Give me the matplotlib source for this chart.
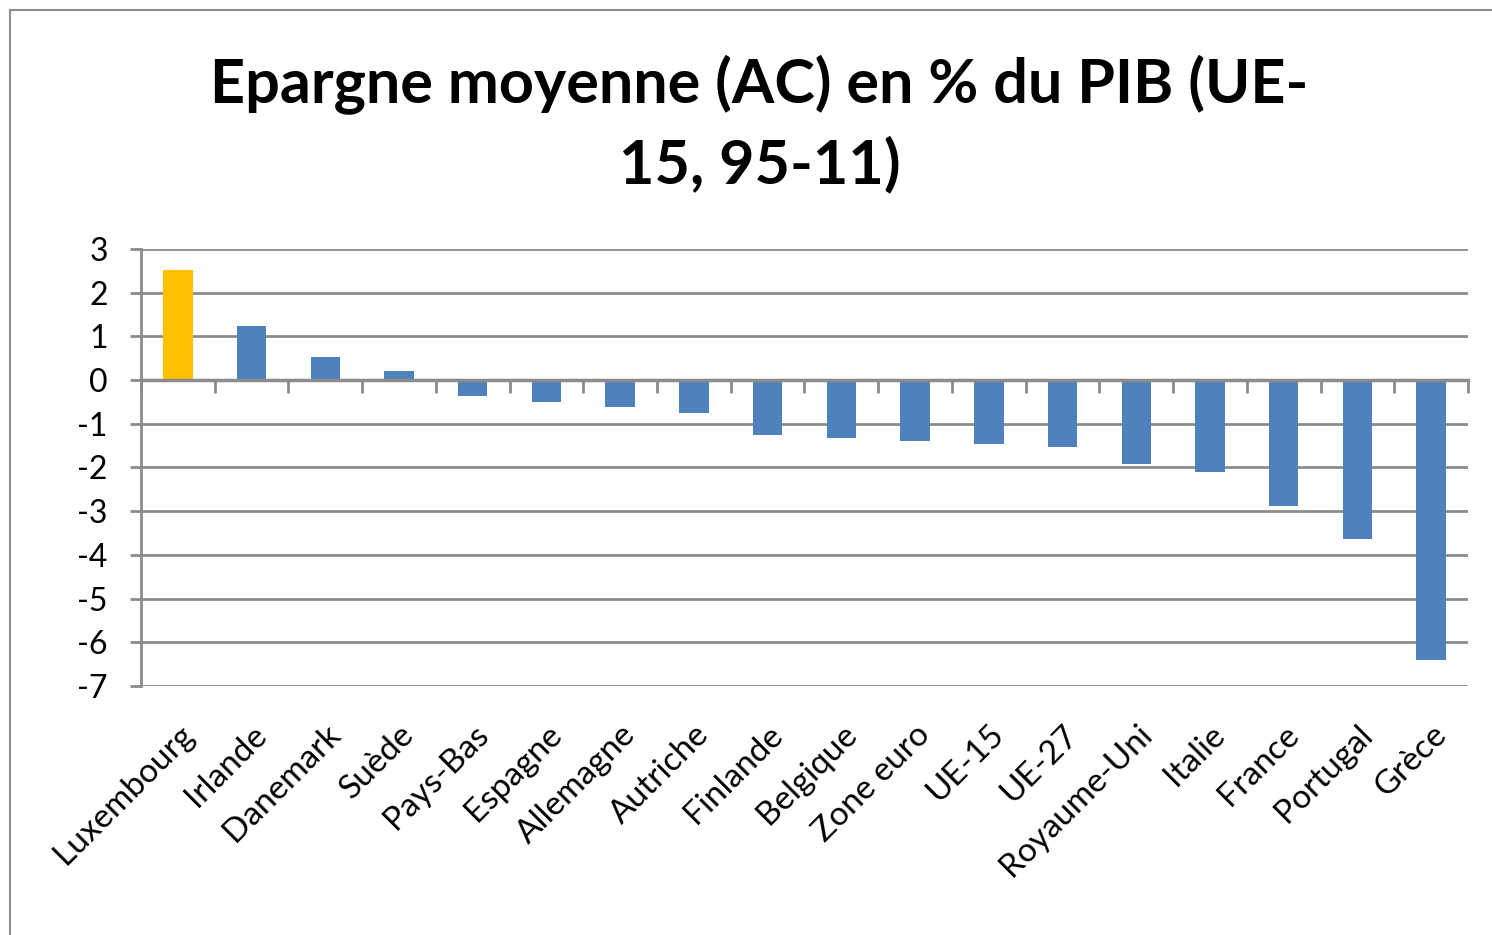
import numpy as np
import matplotlib.pyplot as plt
from matplotlib.patches import Rectangle

# données
pays = ['Luxembourg', 'Irlande', 'Danemark', 'Suède', 'Pays-Bas', 'Espagne',
        'Allemagne', 'Autriche', 'Finlande', 'Belgique', 'Zone euro', 'UE-15',
        'UE-27', 'Royaume-Uni', 'Italie', 'France', 'Portugal', 'Grèce']
epargne = [2.52, 1.24, 0.53, 0.2, -0.37, -0.5, -0.62, -0.75, -1.26, -1.33,
           -1.4, -1.46, -1.53, -1.92, -2.1, -2.88, -3.64, -6.4]
couleurs = ['#FFC000'] + ['#4F81BD'] * (len(pays) - 1)

plt.rcParams['font.family'] = ['Lato', 'DejaVu Sans']
plt.rcParams['axes.unicode_minus'] = False
gris = '#8C8C8C'

fig = plt.figure(figsize=(14.92, 9.35), dpi=100)
fig.patches.append(Rectangle((10 / 1492, -0.2), 1.2, 1.2 - 10 / 935,
                             transform=fig.transFigure, fill=False,
                             edgecolor=gris, linewidth=1.5))
ax = fig.add_axes([141 / 1492, 1 - 686 / 935, (1468 - 141) / 1492, (686 - 249) / 935])

x = np.arange(len(pays))
ax.bar(x, epargne, width=0.4, color=couleurs, zorder=3)

ax.set_ylim(-7, 3)
ax.set_xlim(-0.5, len(pays) - 0.5)
ax.set_yticks(range(-7, 4))
ax.yaxis.grid(True, color=gris, linewidth=2)
ax.set_axisbelow(True)

for s in ['top', 'right']:
    ax.spines[s].set_visible(False)
ax.spines['left'].set_color(gris)
ax.spines['left'].set_linewidth(2)
ax.spines['bottom'].set_position(('data', 0))
ax.spines['bottom'].set_color(gris)
ax.spines['bottom'].set_linewidth(2.5)
ax.spines['bottom'].set_zorder(4)

ax.set_xticks(np.arange(-0.5, len(pays), 1))
ax.set_xticklabels([])
ax.tick_params(axis='x', length=9, width=2, color=gris)
ax.tick_params(axis='y', length=8, width=2, color=gris, labelsize=23, pad=16)

sec = ax.secondary_xaxis('bottom')
sec.set_xticks(x, labels=pays, rotation=45, ha='right', rotation_mode='anchor')
sec.tick_params(length=0, pad=24, labelsize=24)
sec.spines['bottom'].set_visible(False)

fig.text(0.509, 0.793, 'Epargne moyenne (AC) en % du PIB (UE-\n15, 95-11)',
         ha='center', va='bottom', fontsize=44, fontweight='bold', linespacing=1.42)

fig.savefig('out.png', dpi=100)
